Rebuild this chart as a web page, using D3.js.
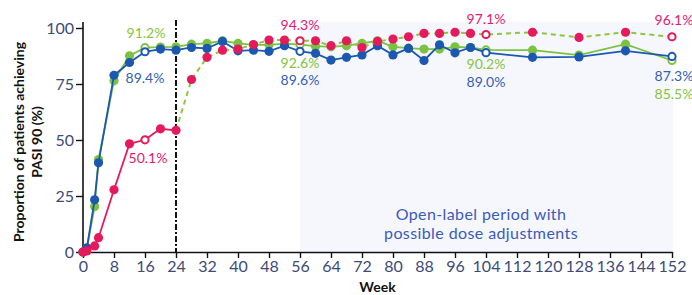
<!DOCTYPE html>
<html>
<head>
<meta charset="utf-8">
<script src="https://cdn.jsdelivr.net/npm/d3@7"></script>
<style>
  body { margin: 0; background: #fff; }
  svg { display: block; font-family: Lato, "Open Sans", sans-serif; }
</style>
</head>
<body>
<div id="chart"></div>
<script>
// weeks and PASI 90 response (%) per arm
const weeks = [0, 1, 3, 4, 8, 12, 16, 20, 24, 28, 32, 36, 40, 44, 48, 52, 56, 60, 64, 68, 72, 76, 80, 84, 88, 92, 96, 100, 104, 116, 128, 140, 152];
const greenValues = [0, 1.5, 20.3, 41.3, 76.4, 87.6, 91.2, 91.5, 91.6, 92.8, 93.1, 94.3, 93.1, 92.5, 92.5, 93.0, 92.6, 91.9, 91.6, 92.1, 93.1, 94.3, 91.6, 91.0, 90.6, 90.6, 91.6, 91.3, 90.2, 90.1, 87.9, 92.8, 85.5];
const blueValues = [0, 1.8, 23.3, 39.8, 78.9, 84.6, 89.4, 90.6, 90.1, 91.3, 90.9, 94.0, 89.8, 90.1, 89.6, 92.1, 89.6, 88.7, 85.7, 86.9, 88.0, 92.1, 88.0, 90.9, 85.5, 92.5, 88.9, 91.3, 89.0, 86.9, 87.1, 89.8, 87.3];
const redValues = [0, 0.5, 2.7, 6.4, 27.8, 48.3, 50.1, 55.0, 54.3, 77.0, 86.9, 90.1, 90.6, 92.6, 94.6, 94.6, 94.3, 94.3, 92.1, 94.3, 91.3, 94.0, 95.1, 96.1, 97.6, 97.6, 98.1, 97.6, 97.1, 98.1, 95.8, 98.1, 96.1];

// weeks drawn as open circles
const openWeeks = [16, 56, 104, 152];
const switchWeek = 24;
const openLabelStart = 56;

const xTicks = d3.range(0, 153, 8);
const yTicks = [0, 25, 50, 75, 100];

// value labels
const labelSeries = ["green", "blue", "red", "red", "green", "blue", "red", "green", "blue", "red", "blue", "green"];
const labelWeeks = [16, 16, 16, 56, 56, 56, 104, 104, 104, 152, 152, 152];
const labelTexts = ["91.2%", "89.4%", "50.1%", "94.3%", "92.6%", "89.6%", "97.1%", "90.2%", "89.0%", "96.1%", "87.3%", "85.5%"];

const W = 692, H = 295;
const colors = { green: "#7cc242", blue: "#1c57b0", red: "#e5195b", dash: "#8dc63f" };
const textColors = { green: "#86c440", blue: "#3560b5", red: "#e41a6e" };

const svg = d3.select("#chart").append("svg")
    .attr("width", W)
    .attr("height", H);

const x = d3.scaleLinear().domain([0, 152]).range([83, 672]);
const y = d3.scaleLinear().domain([0, 100]).range([252, 28]);

// shaded open-label period
svg.append("rect")
    .attr("x", x(openLabelStart))
    .attr("y", y(100) - 6)
    .attr("width", x(152) - x(openLabelStart) + 1)
    .attr("height", y(0) - y(100) + 6)
    .attr("fill", "#f5f7fd");

svg.append("text")
    .attr("x", x(104) - 5)
    .attr("y", 220)
    .attr("text-anchor", "middle")
    .attr("fill", "#3b5bb8")
    .style("font-size", "16px")
    .style("letter-spacing", "0.4px")
    .selectAll("tspan")
    .data(["Open-label period with", "possible dose adjustments"])
    .join("tspan")
    .attr("x", x(104) - 5)
    .attr("dy", (d, i) => i ? 19 : 0)
    .text(d => d);

// axes
const xAxis = svg.append("g")
    .attr("transform", "translate(0," + y(0) + ")")
    .call(d3.axisBottom(x).tickValues(xTicks).tickSize(6).tickSizeOuter(0).tickPadding(3));
const yAxis = svg.append("g")
    .attr("transform", "translate(" + x(0) + ",0)")
    .call(d3.axisLeft(y).tickValues(yTicks).tickSize(7).tickSizeOuter(0).tickPadding(2));

yAxis.select(".domain").attr("d", "M0," + (y(100) - 6) + "V" + y(0));

[xAxis, yAxis].forEach(g => {
    g.select(".domain").attr("stroke", "#111").attr("stroke-width", 1.6);
    g.selectAll(".tick line").attr("stroke", "#111").attr("stroke-width", 1.4);
    g.selectAll(".tick text")
        .attr("fill", "#3e4a78")
        .style("font-size", "16px")
        .style("font-family", "Lato, sans-serif");
});

// axis titles
svg.append("text")
    .attr("x", x(76))
    .attr("y", 292)
    .attr("text-anchor", "middle")
    .attr("fill", "#111")
    .style("font-size", "14px")
    .style("font-weight", "bold")
    .text("Week");

const yTitle = svg.append("text")
    .attr("transform", "translate(24,142) rotate(-90)")
    .attr("text-anchor", "middle")
    .attr("fill", "#111")
    .style("font-size", "14px")
    .style("font-weight", "bold");
yTitle.append("tspan").attr("x", 0).attr("y", 0).text("Proportion of patients achieving");
yTitle.append("tspan").attr("x", 0).attr("y", 18).text("PASI 90 (%)");

// week 24 switch line
svg.append("line")
    .attr("x1", x(switchWeek)).attr("x2", x(switchWeek))
    .attr("y1", y(100) - 8).attr("y2", y(0))
    .attr("stroke", "#111")
    .attr("stroke-width", 2)
    .attr("stroke-dasharray", "6,2,2,2");

const line = d3.line().x(d => x(d.week)).y(d => y(d.value));
const toPoints = vals => weeks.map((w, i) => ({ week: w, value: vals[i] }));

const series = [
    { key: "green", points: toPoints(greenValues) },
    { key: "blue", points: toPoints(blueValues) },
    { key: "red", points: toPoints(redValues) }
];

series.forEach(s => {
    const g = svg.append("g").attr("class", "series-" + s.key);
    if (s.key === "red") {
        g.append("path")
            .datum(s.points.filter(d => d.week <= switchWeek))
            .attr("d", line)
            .attr("fill", "none")
            .attr("stroke", colors.red)
            .attr("stroke-width", 1.8);
        g.append("path")
            .datum(s.points.filter(d => d.week >= switchWeek))
            .attr("d", line)
            .attr("fill", "none")
            .attr("stroke", colors.dash)
            .attr("stroke-width", 2)
            .attr("stroke-dasharray", "5,4");
    } else {
        g.append("path")
            .datum(s.points)
            .attr("d", line)
            .attr("fill", "none")
            .attr("stroke", colors[s.key])
            .attr("stroke-width", 1.8);
    }
    g.selectAll("circle")
        .data(s.points)
        .join("circle")
        .attr("cx", d => x(d.week))
        .attr("cy", d => y(d.value))
        .attr("r", d => openWeeks.includes(d.week) ? 3.6 : 4.6)
        .attr("fill", d => openWeeks.includes(d.week) ? "#fff" : colors[s.key])
        .attr("stroke", colors[s.key])
        .attr("stroke-width", d => openWeeks.includes(d.week) ? 2 : 0);
});

// value labels, offsets relative to the marker
const labelDx = [1, 0, 3, 0, 0, 0, 0, 0, 0, 2, 2, 2];
const labelDy = [-10, 31, 23, -11, 23, 34, -10, 19, 34, -12, 25, 39];
const valueOf = (key, w) => ({ green: greenValues, blue: blueValues, red: redValues })[key][weeks.indexOf(w)];

svg.append("g").selectAll("text")
    .data(labelTexts)
    .join("text")
    .attr("x", (d, i) => x(labelWeeks[i]) + labelDx[i])
    .attr("y", (d, i) => y(valueOf(labelSeries[i], labelWeeks[i])) + labelDy[i])
    .attr("text-anchor", "middle")
    .attr("fill", (d, i) => textColors[labelSeries[i]])
    .style("font-size", "14px")
    .text(d => d);
</script>
</body>
</html>
